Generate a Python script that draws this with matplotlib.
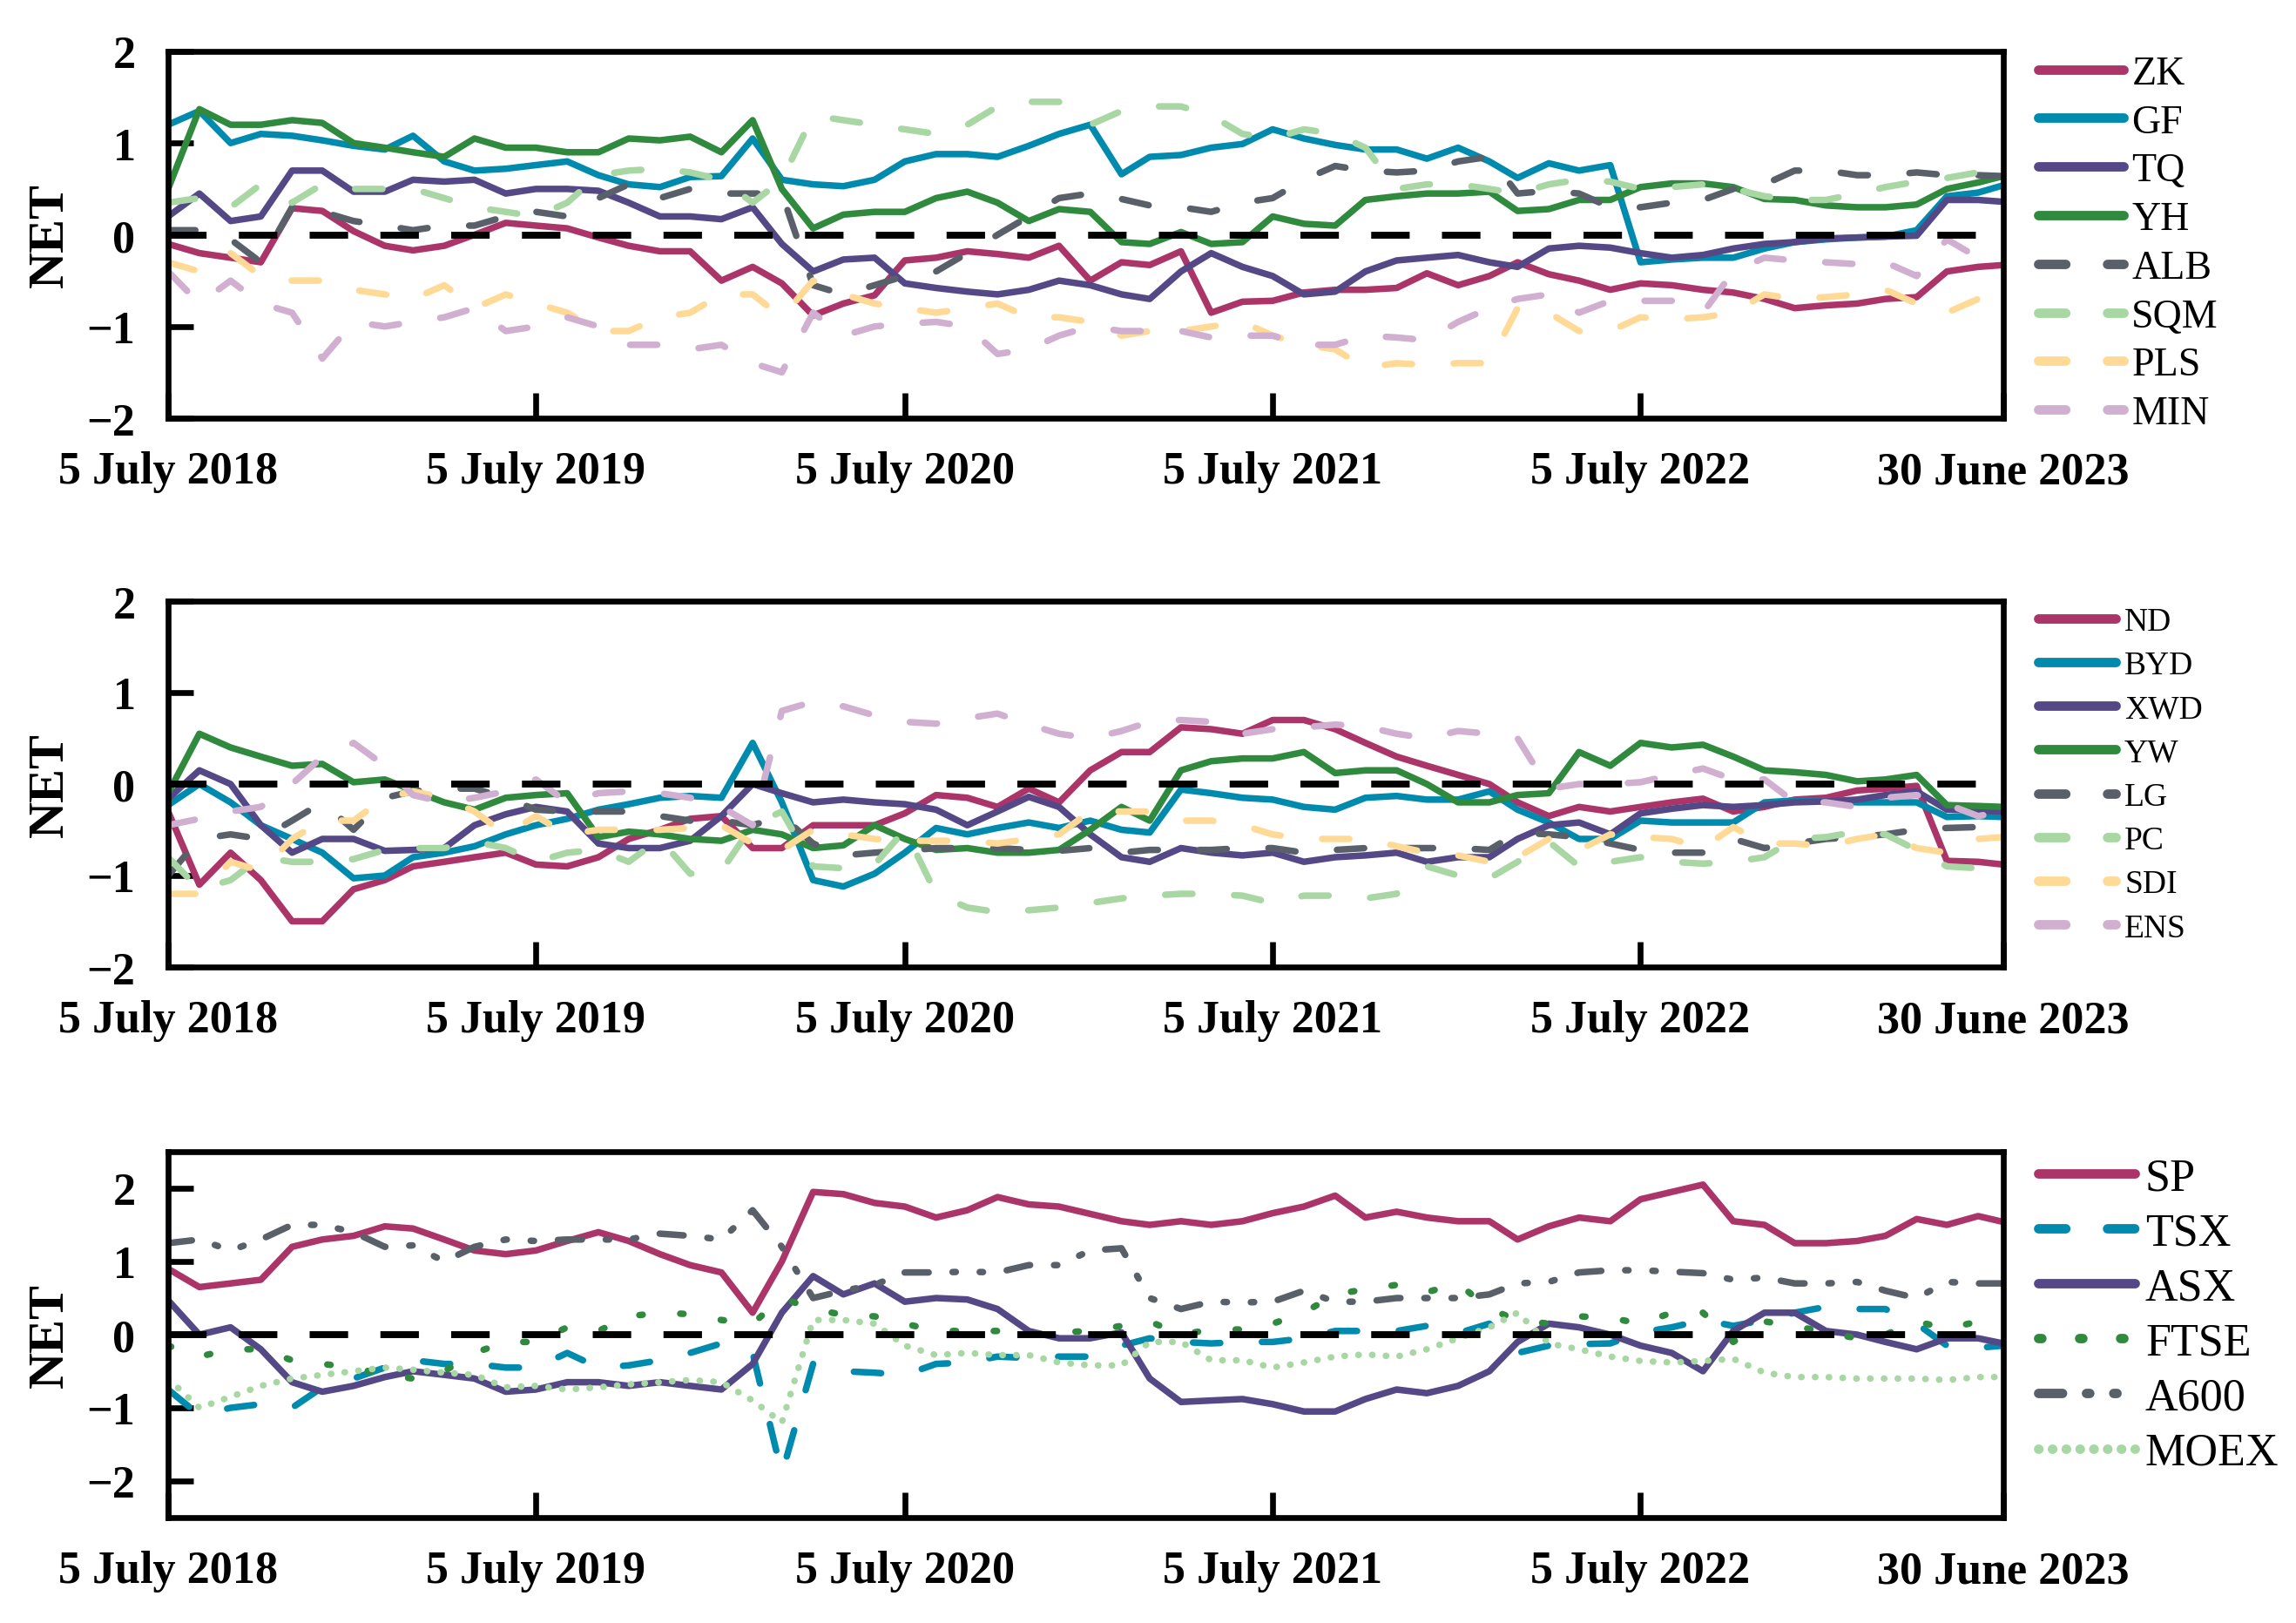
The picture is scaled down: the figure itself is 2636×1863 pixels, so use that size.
import numpy as np
import pandas as pd
import matplotlib
matplotlib.use("Agg")
import matplotlib.pyplot as plt

plt.rcParams['font.family'] = ['Liberation Serif', 'DejaVu Serif']
plt.rcParams['lines.scale_dashes'] = False
plt.rcParams['axes.unicode_minus'] = True

# ---------------- data (monthly readings) ----------------
dates = list(pd.date_range('2018-07-05', periods=60, freq=pd.DateOffset(months=1))) + [pd.Timestamp('2023-06-30')]

# panel 1
zk = [-0.1, -0.2, -0.25, -0.3, 0.29, 0.26, 0.04, -0.12, -0.17, -0.12, 0.0, 0.13, 0.1, 0.07, -0.03, -0.12, -0.18, -0.18, -0.5, -0.35, -0.53, -0.88, -0.75, -0.66, -0.28, -0.25, -0.18, -0.21, -0.25, -0.12,
      -0.5, -0.3, -0.33, -0.18, -0.85, -0.73, -0.72, -0.63, -0.6, -0.6, -0.58, -0.42, -0.55, -0.45, -0.3, -0.43, -0.5, -0.6, -0.53, -0.55, -0.6, -0.63, -0.7, -0.8, -0.77, -0.75, -0.7, -0.68, -0.4, -0.35, -0.33]
gf = [1.2, 1.35, 1.0, 1.1, 1.08, 1.03, 0.97, 0.93, 1.08, 0.8, 0.7, 0.72, 0.76, 0.8, 0.65, 0.55, 0.52, 0.63, 0.64, 1.05, 0.6, 0.55, 0.53, 0.6, 0.8, 0.88, 0.88, 0.85, 0.97, 1.1,
      1.2, 0.66, 0.85, 0.87, 0.95, 0.99, 1.15, 1.05, 0.98, 0.93, 0.93, 0.83, 0.95, 0.8, 0.62, 0.78, 0.7, 0.76, -0.3, -0.27, -0.25, -0.25, -0.15, -0.08, -0.05, -0.03, -0.02, 0.05, 0.42, 0.46, 0.54]
tq = [0.2, 0.45, 0.15, 0.2, 0.7, 0.7, 0.47, 0.47, 0.6, 0.58, 0.6, 0.45, 0.5, 0.5, 0.48, 0.35, 0.2, 0.2, 0.17, 0.3, -0.1, -0.4, -0.27, -0.25, -0.53, -0.58, -0.62, -0.65, -0.6, -0.5,
      -0.55, -0.65, -0.7, -0.4, -0.2, -0.35, -0.45, -0.65, -0.62, -0.4, -0.28, -0.25, -0.22, -0.3, -0.35, -0.15, -0.12, -0.14, -0.2, -0.25, -0.22, -0.15, -0.1, -0.08, -0.04, -0.03, -0.02, -0.01, 0.38, 0.38, 0.36]
yh = [0.5, 1.37, 1.2, 1.2, 1.25, 1.22, 1.0, 0.95, 0.9, 0.85, 1.05, 0.95, 0.95, 0.9, 0.9, 1.05, 1.03, 1.07, 0.9, 1.25, 0.5, 0.07, 0.22, 0.25, 0.25, 0.4, 0.47, 0.35, 0.15, 0.28,
      0.25, -0.08, -0.1, 0.03, -0.1, -0.08, 0.2, 0.12, 0.1, 0.38, 0.42, 0.45, 0.45, 0.47, 0.26, 0.28, 0.38, 0.38, 0.52, 0.56, 0.56, 0.52, 0.39, 0.38, 0.32, 0.3, 0.3, 0.33, 0.5, 0.57, 0.64]
alb = [0.05, 0.05, -0.05, -0.3, 0.3, 0.25, 0.15, 0.1, 0.05, 0.1, 0.1, 0.2, 0.25, 0.2, 0.4, 0.55, 0.4, 0.5, 0.45, 0.45, 0.45, -0.55, -0.65, -0.55, -0.45, -0.4, -0.2, 0.0, 0.2, 0.4,
       0.45, 0.39, 0.32, 0.3, 0.25, 0.35, 0.4, 0.6, 0.75, 0.7, 0.68, 0.7, 0.8, 0.85, 0.45, 0.48, 0.45, 0.3, 0.3, 0.35, 0.38, 0.5, 0.55, 0.7, 0.7, 0.65, 0.65, 0.68, 0.65, 0.65, 0.64]
sqm = [0.35, 0.4, 0.3, 0.55, 0.35, 0.55, 0.5, 0.5, 0.5, 0.4, 0.3, 0.25, 0.2, 0.35, 0.65, 0.7, 0.72, 0.68, 0.6, 0.35, 0.6, 1.3, 1.25, 1.2, 1.15, 1.1, 1.2, 1.4, 1.45, 1.45,
       1.2, 1.35, 1.4, 1.4, 1.3, 1.1, 1.05, 1.15, 1.1, 0.95, 0.5, 0.55, 0.55, 0.5, 0.45, 0.55, 0.6, 0.58, 0.5, 0.52, 0.55, 0.5, 0.42, 0.38, 0.38, 0.45, 0.52, 0.58, 0.62, 0.68, 0.72]
pls = [-0.3, -0.4, -0.2, -0.45, -0.5, -0.5, -0.6, -0.65, -0.7, -0.55, -0.8, -0.65, -0.75, -0.85, -1.05, -1.05, -0.9, -0.85, -0.65, -0.65, -0.9, -0.5, -0.65, -0.75, -0.8, -0.85, -0.8, -0.75, -0.9, -0.9,
       -0.95, -1.1, -1.05, -1.05, -1.0, -0.95, -1.1, -1.2, -1.25, -1.45, -1.4, -1.42, -1.4, -1.4, -0.8, -0.85, -1.05, -1.05, -0.9, -0.92, -0.9, -0.85, -0.65, -0.7, -0.68, -0.65, -0.6, -0.75, -0.85, -0.7, -0.65]
mins = [-0.4, -0.75, -0.5, -0.75, -0.85, -1.35, -0.95, -1.0, -0.95, -0.9, -0.8, -1.05, -1.0, -0.9, -1.0, -1.2, -1.2, -1.25, -1.2, -1.4, -1.5, -0.85, -1.1, -1.0, -0.97, -0.95, -1.0, -1.3, -1.25, -1.1,
        -1.0, -1.05, -1.05, -1.05, -1.12, -1.1, -1.1, -1.2, -1.2, -1.1, -1.12, -1.15, -0.95, -0.8, -0.7, -0.65, -0.85, -0.72, -0.72, -0.72, -0.85, -0.4, -0.25, -0.28, -0.3, -0.32, -0.3, -0.45, -0.05, -0.25, -0.3]

# panel 2
nd = [-0.3, -1.1, -0.75, -1.05, -1.5, -1.5, -1.15, -1.05, -0.9, -0.85, -0.8, -0.75, -0.88, -0.9, -0.8, -0.6, -0.5, -0.38, -0.35, -0.7, -0.7, -0.45, -0.45, -0.45, -0.32, -0.12, -0.15, -0.25, -0.05, -0.2,
      0.15, 0.35, 0.35, 0.62, 0.6, 0.55, 0.7, 0.7, 0.6, 0.45, 0.3, 0.2, 0.1, 0.0, -0.2, -0.35, -0.25, -0.3, -0.25, -0.2, -0.16, -0.3, -0.25, -0.17, -0.15, -0.07, -0.05, -0.02, -0.84, -0.85, -0.88]
byd = [-0.23, 0.0, -0.2, -0.45, -0.6, -0.75, -1.03, -1.0, -0.8, -0.75, -0.68, -0.55, -0.45, -0.38, -0.28, -0.22, -0.15, -0.13, -0.15, 0.45, -0.2, -1.05, -1.12, -0.98, -0.75, -0.48, -0.55, -0.48, -0.42, -0.48,
       -0.4, -0.5, -0.53, -0.06, -0.1, -0.15, -0.17, -0.25, -0.28, -0.15, -0.13, -0.17, -0.17, -0.08, -0.28, -0.42, -0.6, -0.6, -0.4, -0.42, -0.42, -0.42, -0.2, -0.18, -0.18, -0.2, -0.2, -0.2, -0.36, -0.35, -0.36]
xwd = [-0.16, 0.15, 0.0, -0.45, -0.75, -0.6, -0.6, -0.73, -0.72, -0.7, -0.45, -0.33, -0.25, -0.3, -0.65, -0.7, -0.7, -0.62, -0.35, 0.0, -0.1, -0.2, -0.17, -0.2, -0.22, -0.28, -0.45, -0.3, -0.14, -0.25,
       -0.55, -0.8, -0.85, -0.7, -0.75, -0.78, -0.75, -0.85, -0.8, -0.78, -0.75, -0.85, -0.8, -0.8, -0.6, -0.45, -0.42, -0.55, -0.32, -0.27, -0.23, -0.25, -0.23, -0.2, -0.19, -0.17, -0.12, -0.08, -0.28, -0.29, -0.3]
yw = [-0.1, 0.55, 0.4, 0.3, 0.2, 0.22, 0.02, 0.05, -0.07, -0.2, -0.28, -0.15, -0.12, -0.1, -0.58, -0.52, -0.55, -0.6, -0.62, -0.5, -0.55, -0.7, -0.67, -0.45, -0.6, -0.72, -0.7, -0.75, -0.75, -0.72,
      -0.5, -0.25, -0.4, 0.15, 0.25, 0.28, 0.28, 0.35, 0.12, 0.15, 0.15, 0.0, -0.2, -0.2, -0.12, -0.1, 0.35, 0.2, 0.45, 0.4, 0.43, 0.3, 0.15, 0.13, 0.1, 0.03, 0.05, 0.1, -0.23, -0.24, -0.25]
lg = [-1.0, -0.6, -0.55, -0.6, -0.4, -0.2, -0.5, -0.15, -0.08, -0.05, -0.05, -0.15, -0.28, -0.3, -0.3, -0.3, -0.35, -0.4, -0.4, -0.45, -0.35, -0.65, -0.78, -0.75, -0.73, -0.7, -0.7, -0.7, -0.72, -0.73,
      -0.7, -0.75, -0.72, -0.72, -0.72, -0.7, -0.7, -0.75, -0.72, -0.7, -0.7, -0.7, -0.7, -0.72, -0.53, -0.55, -0.58, -0.65, -0.72, -0.75, -0.75, -0.6, -0.7, -0.65, -0.6, -0.58, -0.55, -0.5, -0.48, -0.47, -0.47]
pc = [-0.8, -1.15, -1.05, -0.8, -0.85, -0.85, -0.82, -0.72, -0.7, -0.7, -0.63, -0.7, -0.85, -0.75, -0.72, -0.85, -0.6, -0.98, -0.95, -0.45, -0.3, -0.9, -0.92, -0.88, -0.5, -1.2, -1.35, -1.4, -1.38, -1.35,
      -1.3, -1.25, -1.22, -1.2, -1.2, -1.22, -1.3, -1.22, -1.22, -1.25, -1.2, -0.9, -1.0, -1.03, -0.85, -0.63, -0.9, -0.85, -0.8, -0.85, -0.87, -0.85, -0.8, -0.6, -0.58, -0.52, -0.55, -0.72, -0.9, -0.92, -0.93]
sdi = [-1.2, -1.2, -0.85, -0.95, -0.6, -0.4, -0.4, -0.15, -0.08, -0.15, -0.3, -0.55, -0.35, -0.55, -0.5, -0.5, -0.5, -0.48, -0.45, -0.65, -0.72, -0.5, -0.55, -0.6, -0.62, -0.62, -0.62, -0.65, -0.6, -0.55,
       -0.3, -0.3, -0.3, -0.4, -0.4, -0.45, -0.55, -0.6, -0.6, -0.6, -0.68, -0.75, -0.78, -0.85, -0.8, -0.6, -0.72, -0.55, -0.58, -0.6, -0.7, -0.47, -0.65, -0.65, -0.68, -0.6, -0.55, -0.7, -0.75, -0.6, -0.58]
ens = [-0.45, -0.38, -0.3, -0.25, 0.0, 0.3, 0.45, 0.2, -0.12, -0.2, -0.15, -0.08, 0.05, -0.2, -0.1, -0.08, -0.1, -0.15, -0.25, -0.45, 0.8, 0.9, 0.85, 0.75, 0.68, 0.66, 0.72, 0.77, 0.65, 0.55,
       0.5, 0.58, 0.68, 0.7, 0.68, 0.55, 0.6, 0.62, 0.65, 0.63, 0.55, 0.5, 0.58, 0.55, 0.5, -0.05, 0.0, 0.0, 0.02, 0.1, 0.17, 0.05, 0.05, -0.2, -0.2, -0.25, -0.15, -0.12, -0.22, -0.35, -0.3]

# panel 3
sp = [0.9, 0.65, 0.7, 0.75, 1.2, 1.3, 1.35, 1.48, 1.45, 1.3, 1.15, 1.1, 1.15, 1.28, 1.4, 1.28, 1.1, 0.95, 0.85, 0.3, 1.0, 1.95, 1.92, 1.8, 1.75, 1.6, 1.7, 1.88, 1.78, 1.75,
      1.65, 1.55, 1.5, 1.55, 1.5, 1.55, 1.66, 1.75, 1.9, 1.6, 1.68, 1.6, 1.55, 1.55, 1.3, 1.48, 1.6, 1.55, 1.85, 1.95, 2.05, 1.55, 1.5, 1.25, 1.25, 1.28, 1.35, 1.58, 1.5, 1.62, 1.54]
tsx = [-0.75, -1.1, -1.0, -0.95, -1.0, -0.72, -0.6, -0.45, -0.35, -0.4, -0.4, -0.45, -0.45, -0.25, -0.45, -0.42, -0.35, -0.25, -0.12, -0.25, -1.9, -0.4, -0.5, -0.52, -0.55, -0.4, -0.38, -0.3, -0.32, -0.3,
       -0.3, -0.15, -0.05, -0.1, -0.12, -0.1, -0.1, -0.05, 0.05, 0.05, 0.05, 0.12, 0.02, 0.15, -0.25, -0.15, -0.13, -0.12, 0.03, 0.1, 0.2, 0.12, 0.2, 0.3, 0.38, 0.35, 0.35, 0.15, -0.15, -0.18, -0.15]
asx = [0.47, 0.0, 0.1, -0.2, -0.65, -0.78, -0.7, -0.58, -0.5, -0.55, -0.6, -0.78, -0.75, -0.65, -0.65, -0.7, -0.65, -0.7, -0.75, -0.4, 0.3, 0.8, 0.55, 0.7, 0.45, 0.5, 0.48, 0.35, 0.05, -0.05,
       -0.05, 0.03, -0.6, -0.92, -0.9, -0.88, -0.95, -1.05, -1.05, -0.88, -0.75, -0.8, -0.7, -0.5, -0.1, 0.15, 0.1, 0.0, -0.15, -0.25, -0.5, 0.05, 0.3, 0.3, 0.05, 0.0, -0.1, -0.2, -0.05, -0.05, -0.12]
ftse = [-0.15, -0.3, -0.2, -0.2, -0.35, -0.4, -0.45, -0.55, -0.6, -0.5, -0.25, -0.1, -0.1, 0.1, 0.05, 0.25, 0.3, 0.28, 0.2, 0.15, 0.5, 0.35, 0.27, 0.25, 0.15, 0.05, 0.05, 0.05, 0.0, 0.03,
        0.05, 0.12, 0.18, 0.0, 0.07, 0.07, 0.15, 0.3, 0.55, 0.62, 0.68, 0.58, 0.7, 0.35, 0.2, 0.15, 0.25, 0.23, 0.15, 0.3, 0.3, -0.1, 0.18, 0.12, 0.03, -0.05, 0.0, 0.18, 0.08, 0.18, 0.18]
a600 = [1.25, 1.3, 1.15, 1.3, 1.5, 1.5, 1.4, 1.2, 1.22, 1.0, 1.2, 1.3, 1.28, 1.3, 1.3, 1.3, 1.38, 1.35, 1.3, 1.7, 1.2, 0.5, 0.6, 0.68, 0.85, 0.85, 0.86, 0.85, 0.95, 0.95,
        1.15, 1.18, 0.5, 0.35, 0.45, 0.44, 0.45, 0.6, 0.45, 0.45, 0.5, 0.5, 0.5, 0.55, 0.7, 0.72, 0.85, 0.88, 0.88, 0.86, 0.84, 0.75, 0.78, 0.7, 0.7, 0.72, 0.6, 0.5, 0.72, 0.7, 0.7]
moex = [-0.6, -1.0, -0.85, -0.7, -0.6, -0.55, -0.5, -0.45, -0.48, -0.52, -0.55, -0.72, -0.7, -0.75, -0.72, -0.68, -0.65, -0.62, -0.65, -0.9, -1.2, 0.2, 0.2, 0.15, -0.15, -0.28, -0.25, -0.28, -0.28, -0.38,
        -0.42, -0.42, -0.1, -0.1, -0.35, -0.35, -0.45, -0.38, -0.3, -0.27, -0.3, -0.2, -0.05, 0.1, 0.3, -0.12, -0.2, -0.3, -0.36, -0.38, -0.36, -0.33, -0.52, -0.58, -0.58, -0.6, -0.6, -0.6, -0.62, -0.58, -0.58]

names1 = ['ZK', 'GF', 'TQ', 'YH', 'ALB', 'SQM', 'PLS', 'MIN']
vals1 = [zk, gf, tq, yh, alb, sqm, pls, mins]
names2 = ['ND', 'BYD', 'XWD', 'YW', 'LG', 'PC', 'SDI', 'ENS']
vals2 = [nd, byd, xwd, yw, lg, pc, sdi, ens]
names3 = ['SP', 'TSX', 'ASX', 'FTSE', 'A600', 'MOEX']
vals3 = [sp, tsx, asx, ftse, a600, moex]

tick_dates = [pd.Timestamp(d) for d in ['2018-07-05', '2019-07-05', '2020-07-05', '2021-07-05', '2022-07-05', '2023-06-30']]
tick_labels = ['5 July 2018', '5 July 2019', '5 July 2020', '5 July 2021', '5 July 2022', '30 June 2023']

# ---------------- styles ----------------
MAG, TEAL, PURP, GRN = '#AB3569', '#008AAD', '#554886', '#2F8A3E'
GRAY, LGRN, LORG, LIL = '#5A6069', '#A8D7A3', '#FFDA96', '#D1AFD1'
DASH = (0, (7.5, 11.5))
SOLID = '-'
colors1 = [MAG, TEAL, PURP, GRN, GRAY, LGRN, LORG, LIL]
styles1 = [SOLID] * 4 + [DASH] * 4
colors3 = [MAG, TEAL, PURP, GRN, GRAY, LGRN]
styles3 = [SOLID, DASH, SOLID, (0, (0.9, 10.4)), (0, (6.6, 6.6, 0.9, 6.6, 0.9, 6.6)), (0, (0.1, 3.7))]

W, H = 2636, 1864
fig = plt.figure(figsize=(W / 300, H / 300), dpi=300)
left = 193 / W
width = 2107 / W
panels = [
    (names1, vals1, colors1, styles1, 60, 481, (-2, 2), 11, 0.29, 2.14, 0.2, 0.99),
    (names2, vals2, colors1, styles1, 691, 1111, (-2, 2), 9, 0.42, 2.37, 0.27, 0.985),
    (names3, vals3, colors3, styles3, 1323, 1743, (-2.5, 2.5), 12.5, 0.29, 2.13, 0.23, 0.985),
]

for names, vals, cols, stys, top, bot, ylim, lfs, lsp, hl, htp, ly in panels:
    ax = fig.add_axes([left, 1 - bot / H, width, (bot - top) / H])
    for nm, v, c, s in zip(names, vals, cols, stys):
        ax.plot(dates, v, color=c, lw=1.8, linestyle=s, label=nm,
                dash_capstyle='round', solid_capstyle='round',
                solid_joinstyle='round', dash_joinstyle='round')
    ax.axhline(0, color='black', lw=1.9, linestyle=(0, (10.6, 8.9)), zorder=5)
    ax.set_xlim(dates[0], dates[-1])
    ax.set_ylim(*ylim)
    ax.set_yticks([-2, -1, 0, 1, 2])
    ax.set_xticks(tick_dates)
    ax.set_xticklabels(tick_labels)
    ax.tick_params(direction='in', length=7, width=1.6, top=False, right=False,
                   labelsize=12.5, pad=9)
    for lab in ax.get_xticklabels() + ax.get_yticklabels():
        lab.set_fontweight('bold')
    for sp_ in ax.spines.values():
        sp_.set_linewidth(1.6)
    ax.set_ylabel('NET', fontsize=14, fontweight='bold')
    ax.yaxis.set_label_coords(-0.052, 0.5)
    leg = ax.legend(loc='upper left', bbox_to_anchor=(1.019, ly), borderaxespad=0,
                    borderpad=0, frameon=False, fontsize=lfs, labelspacing=lsp,
                    handlelength=hl, handletextpad=htp)
    for ln in leg.get_lines():
        ln.set_linewidth(2.6)

fig.savefig('out.png', dpi=300)
